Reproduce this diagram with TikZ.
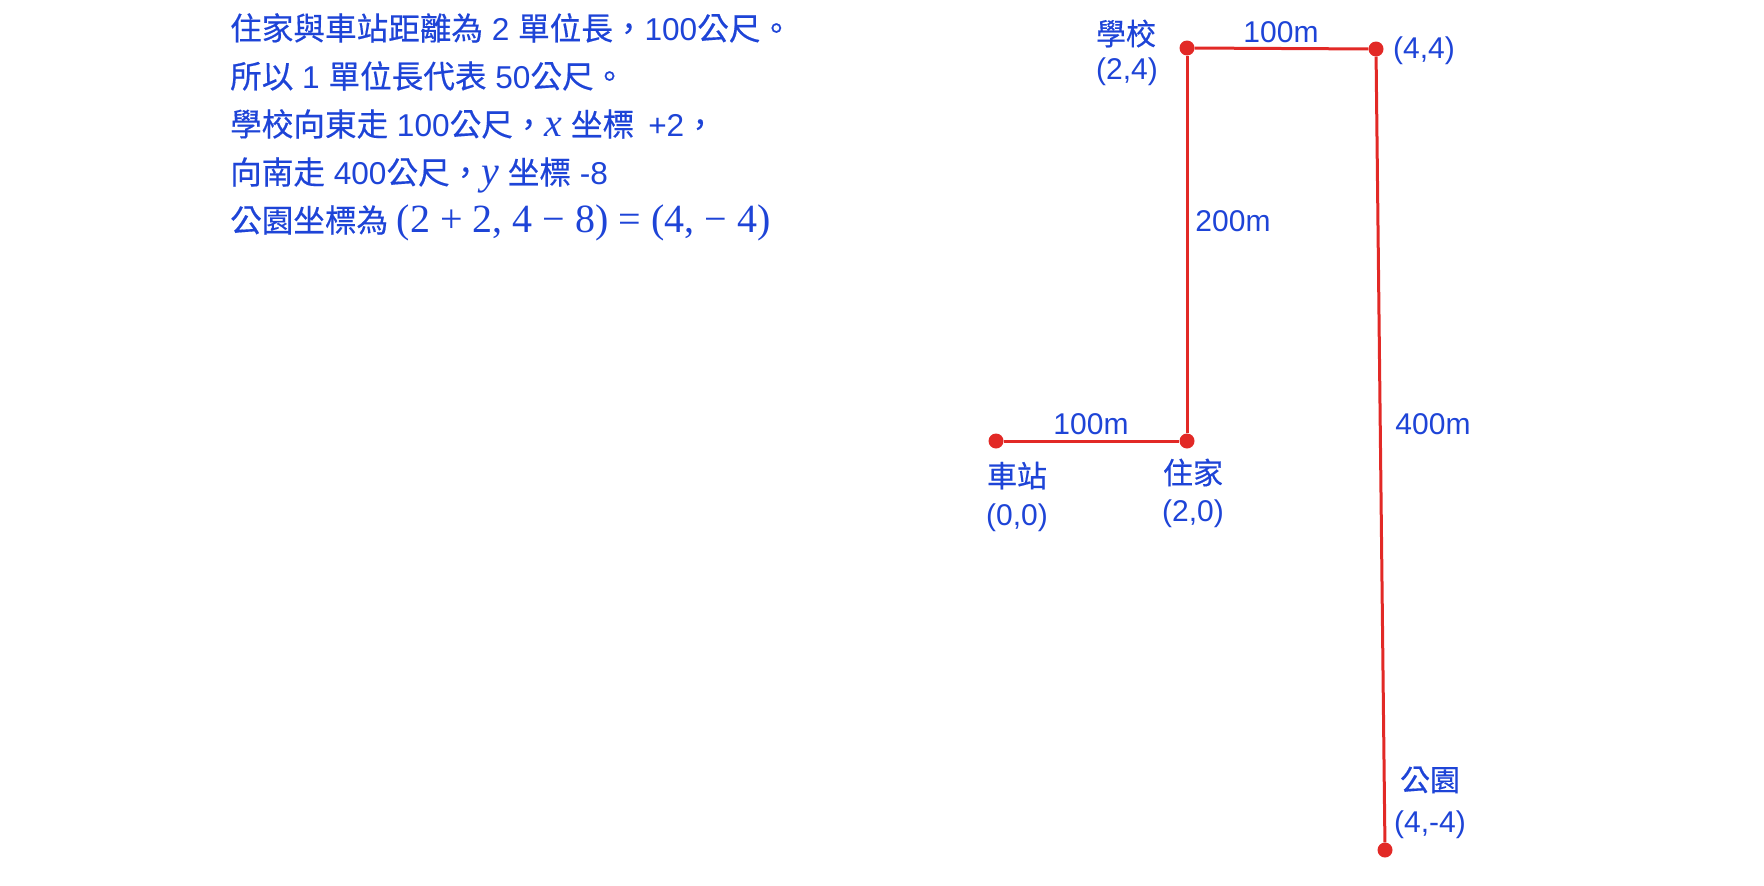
\documentclass[tikz,border=0pt]{standalone}
\usepackage[no-math]{fontspec}
\setmainfont{Liberation Sans}
\newfontfamily\cjk[FakeBold=0.4]{Noto Sans CJK TC}
\newfontfamily\mser{Liberation Serif}
\definecolor{txtblue}{RGB}{30,68,215}
\definecolor{pathred}{RGB}{226,41,38}
\tikzset{
 pt/.style={circle,fill=pathred,inner sep=0pt,minimum size=15pt},
 seg/.style={draw=pathred,line width=3pt},
 lbl/.style={text=txtblue,font=\fontsize{30}{36}\selectfont,inner sep=0pt,anchor=base},
 info/.style={text=txtblue,font=\fontsize{31.6}{38}\selectfont,inner sep=0pt,anchor=base west},
}
\newcommand{\mth}[1]{{\mser\fontsize{40}{46}\selectfont #1}}
\begin{document}
\begin{tikzpicture}[x=1pt,y=-1pt]
\useasboundingbox (0,0) rectangle (1764,886);
% info text
\node[info] (t1) at (230,40) {{\cjk 住家與車站距離為} 2 {\cjk 單位長，}100{\cjk 公尺。}};
\node[info] (t2) at (230,88) {{\cjk 所以} 1 {\cjk 單位長代表} 50{\cjk 公尺。}};
\node[info] (t3) at (230,136) {{\cjk 學校向東走} 100{\cjk 公尺，}\mth{\itshape x} {\cjk 坐標} \,+2{\cjk ，}};
\node[info] (t4) at (230,184) {{\cjk 向南走} 400{\cjk 公尺，}\mth{\itshape y} {\cjk 坐標} -8};
\node[info] (t5) at (230,232) {{\cjk 公園坐標為} \mth{(2 + 2, 4 − 8) = (4, − 4)}};
% points
\node[pt] (st) at (996,441) {};
\node[pt] (home) at (1187,441) {};
\node[pt] (school) at (1187,48) {};
\node[pt] (ne) at (1376,49) {};
\node[pt] (park) at (1385,850) {};
% segments
\draw[seg] (st) -- (home);
\draw[seg] (home) -- (school);
\draw[seg] (school) -- (ne);
\draw[seg] (ne) -- (park);
% labels
\node[lbl] (lschool) at (1126,45) {{\cjk 學校}};
\node[lbl] (cschool) at (1127,79) {(2,4)};
\node[lbl] (d1) at (1281,42) {100m};
\node[lbl] (cne) at (1424,58) {(4,4)};
\node[lbl] (d2) at (1233,231) {200m};
\node[lbl] (d3) at (1091,434) {100m};
\node[lbl] (d4) at (1433,434) {400m};
\node[lbl] (lst) at (1017,487) {{\cjk 車站}};
\node[lbl] (cst) at (1017,525) {(0,0)};
\node[lbl] (lhome) at (1193,484) {{\cjk 住家}};
\node[lbl] (chome) at (1193,521) {(2,0)};
\node[lbl] (lpark) at (1430,791) {{\cjk 公園}};
\node[lbl] (cpark) at (1430,832) {(4,-4)};
\end{tikzpicture}
\end{document}
